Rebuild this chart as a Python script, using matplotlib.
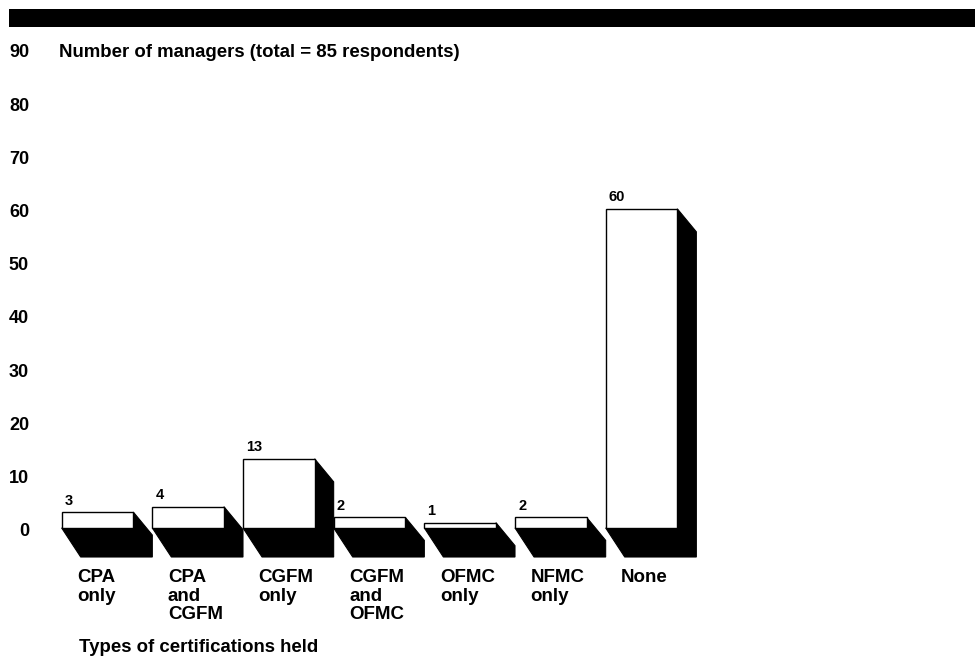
import matplotlib
matplotlib.use("Agg")
import matplotlib.pyplot as plt
from matplotlib.patches import Polygon, Rectangle
from matplotlib.transforms import offset_copy, blended_transform_factory

categorias = ["CPA\nonly", "CPA\nand\nCGFM", "CGFM\nonly", "CGFM\nand\nOFMC",
              "OFMC\nonly", "NFMC\nonly", "None"]
valores = [3, 4, 13, 2, 1, 2, 60]
ticks_y = [0, 10, 20, 30, 40, 50, 60, 70, 80, 90]

plt.rcParams["font.family"] = ["Liberation Sans", "DejaVu Sans"]
plt.rcParams["font.weight"] = "bold"

W, H = 975, 660
fig = plt.figure(figsize=(W / 100, H / 100), dpi=100)

# geometria en pixeles de la figura
px_unidad = 5.32          # pixeles por unidad del eje y
y0_px = 528               # pixel (desde arriba) del valor 0
paso_px = 90.67           # separacion entre barras
centro0_px = 97.5
ancho = 0.79
ax_top, ax_bot = 40, 575

ymax = (y0_px - ax_top) / px_unidad
ymin = (y0_px - ax_bot) / px_unidad
xmin = -centro0_px / paso_px
xmax = (W - centro0_px) / paso_px

ax = fig.add_axes([0, (H - ax_bot) / H, 1, (ax_bot - ax_top) / H])
ax.set_xlim(xmin, xmax)
ax.set_ylim(ymin, ymax)
ax.axis("off")

dx = 19 / paso_px
dy_lado = 23 / px_unidad
dy_suelo = 29 / px_unidad

for i, (cat, v) in enumerate(zip(categorias, valores)):
    xl, xr = i - ancho / 2, i + ancho / 2
    sombra = Polygon([(xl, 0), (xr, 0), (xr, v), (xr + dx, v - dy_lado),
                      (xr + dx, -dy_suelo), (xl + dx, -dy_suelo)],
                     closed=True, facecolor="black", edgecolor="black", lw=0.8)
    ax.add_patch(sombra)
    ax.add_patch(Rectangle((xl, 0), ancho, v, facecolor="white",
                           edgecolor="black", lw=1.0, zorder=3))
    ax.text(xl + 0.033, v + 0.85, str(v), ha="left", va="bottom",
            fontsize=10.5, fontweight="bold")
    ax.text(xl + 0.17, -7.7, cat, ha="left", va="top", fontsize=13.5,
            fontweight="bold", linespacing=1.13)

# etiquetas del eje y
trans = blended_transform_factory(fig.transFigure, ax.transData)
trans = offset_copy(trans, fig=fig, x=0, y=-3.7, units="dots")
for t in ticks_y:
    ax.text(29 / W, t, str(t), transform=trans, ha="right", va="center",
            fontsize=13, fontweight="bold")

fig.text(59 / W, 1 - 52.8 / H, "Number of managers (total = 85 respondents)",
         ha="left", va="center", fontsize=13.4, fontweight="bold")
fig.text(79 / W, 1 - 648 / H, "Types of certifications held",
         ha="left", va="center", fontsize=13.4, fontweight="bold")

# banda negra superior
fig.patches.append(Rectangle((9 / W, 1 - 27.3 / H), 1, 18.3 / H,
                             transform=fig.transFigure, facecolor="black",
                             edgecolor="none"))

fig.savefig("out.png", dpi=100)
